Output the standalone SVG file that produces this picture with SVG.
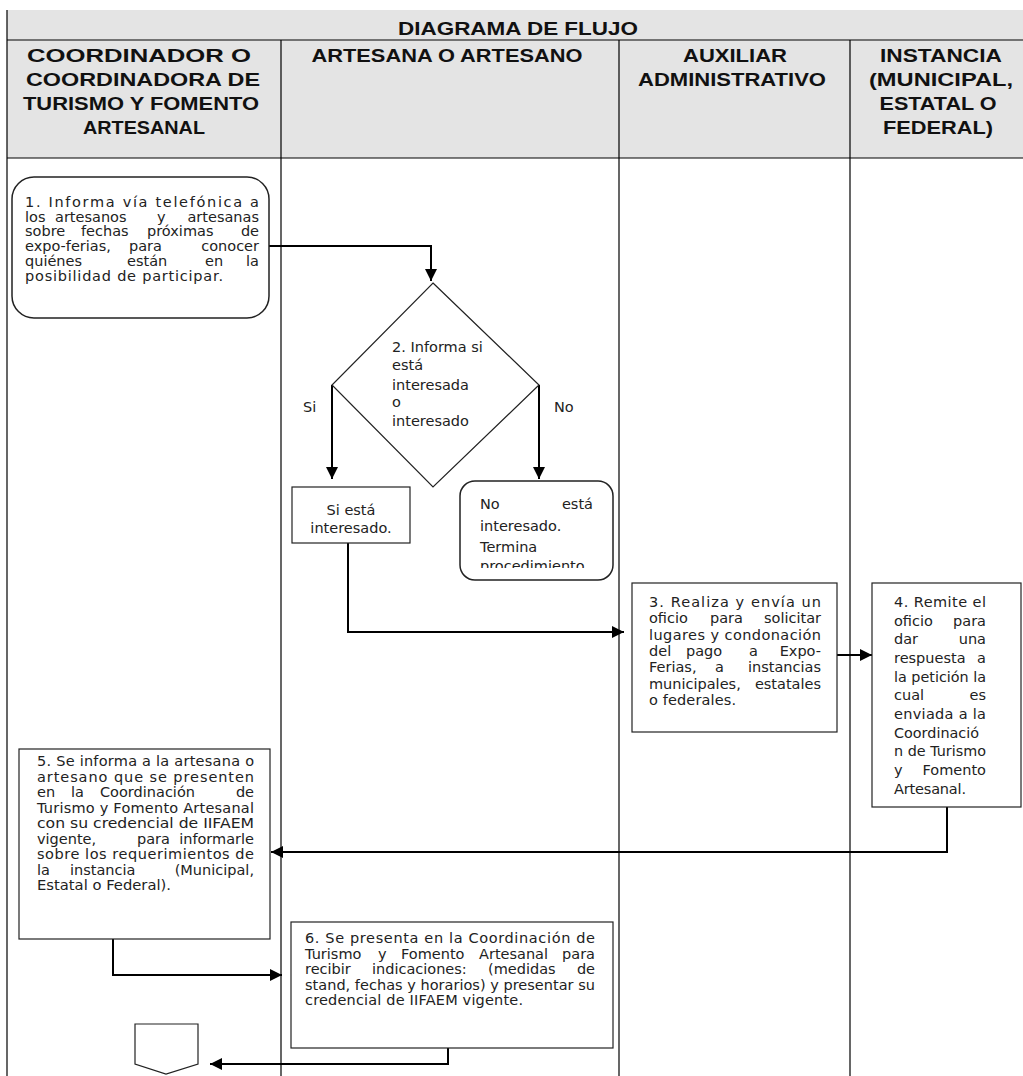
<svg xmlns="http://www.w3.org/2000/svg" width="1023" height="1076" viewBox="0 0 1023 1076">
<style>
.lane{stroke:#000;stroke-width:1.2;fill:none}
.hdr{fill:#e4e4e4}
.h{font-family:"Liberation Sans",Arial,sans-serif;font-weight:bold;font-size:19px;fill:#111;text-anchor:middle}
.t{font-family:"DejaVu Sans","Liberation Sans",sans-serif;font-size:14.5px;fill:#222}
.e{text-anchor:end}
.m{text-anchor:middle}
.box{fill:#fff;stroke:#222;stroke-width:1.2}
.rbox{fill:#fff;stroke:#222;stroke-width:1.5}
.conn{fill:none;stroke:#000;stroke-width:2}
</style>
<defs>
<marker id="ah" markerWidth="12" markerHeight="12" refX="12" refY="6" orient="auto" markerUnits="userSpaceOnUse">
<path d="M0,0 L12,6 L0,12 z" fill="#000"/>
</marker>
<clipPath id="noclip"><rect x="460" y="481" width="153" height="87"/></clipPath>
</defs>
<rect width="1023" height="1076" fill="#fff"/>
<g id="table">
<rect class="hdr" x="7" y="10" width="1016" height="148"/>
<line class="lane" x1="7" y1="10" x2="7" y2="1076"/>
<line class="lane" x1="7" y1="40" x2="1023" y2="40"/>
<line class="lane" x1="7" y1="158" x2="1023" y2="158"/>
<line class="lane" x1="281" y1="40" x2="281" y2="1076"/>
<line class="lane" x1="619" y1="40" x2="619" y2="1076"/>
<line class="lane" x1="850" y1="40" x2="850" y2="1076"/>
<text class="h" x="518" y="35" textLength="240" lengthAdjust="spacingAndGlyphs">DIAGRAMA DE FLUJO</text>
<text class="h" x="139" y="62" textLength="224" lengthAdjust="spacingAndGlyphs">COORDINADOR O</text>
<text class="h" x="143" y="86" textLength="234" lengthAdjust="spacingAndGlyphs">COORDINADORA DE</text>
<text class="h" x="141" y="110" textLength="236" lengthAdjust="spacingAndGlyphs">TURISMO Y FOMENTO</text>
<text class="h" x="144" y="134" textLength="122" lengthAdjust="spacingAndGlyphs">ARTESANAL</text>
<text class="h" x="447" y="62" textLength="271" lengthAdjust="spacingAndGlyphs">ARTESANA O ARTESANO</text>
<text class="h" x="735" y="62" textLength="104" lengthAdjust="spacingAndGlyphs">AUXILIAR</text>
<text class="h" x="732" y="86" textLength="188" lengthAdjust="spacingAndGlyphs">ADMINISTRATIVO</text>
<text class="h" x="941" y="62" textLength="122" lengthAdjust="spacingAndGlyphs">INSTANCIA</text>
<text class="h" x="941" y="86" textLength="144" lengthAdjust="spacingAndGlyphs">(MUNICIPAL,</text>
<text class="h" x="938" y="110" textLength="117" lengthAdjust="spacingAndGlyphs">ESTATAL O</text>
<text class="h" x="938" y="134" textLength="110" lengthAdjust="spacingAndGlyphs">FEDERAL)</text>
</g>
<g id="connectors">
<path class="conn" d="M269,246 H431 V281" marker-end="url(#ah)"/>
<path class="conn" d="M332,385 V479" marker-end="url(#ah)"/>
<path class="conn" d="M539,385 V479" marker-end="url(#ah)"/>
<path class="conn" d="M348,543 V632 H624" marker-end="url(#ah)"/>
<path class="conn" d="M837,655 H872" marker-end="url(#ah)"/>
<path class="conn" d="M947,807 V852 H271" marker-end="url(#ah)"/>
<path class="conn" d="M113,939 V975 H282" marker-end="url(#ah)"/>
<path class="conn" d="M448,1048 V1064 H210" marker-end="url(#ah)"/>
<text class="t" x="303" y="412">Si</text>
<text class="t" x="554" y="412">No</text>
</g>
<g id="node1">
<rect class="rbox" x="12" y="177" width="257" height="141" rx="22"/>
<text class="t" x="25" y="207" textLength="234" lengthAdjust="spacing">1. Informa vía telefónica a</text>
<text class="t" y="221.7"><tspan x="25">los</tspan><tspan x="55">artesanos</tspan><tspan x="157">y</tspan></text>
<text class="t e" x="259" y="221.7">artesanas</text>
<text class="t" y="236.4"><tspan x="25">sobre</tspan><tspan x="81">fechas</tspan><tspan x="147">próximas</tspan></text>
<text class="t e" x="259" y="236.4">de</text>
<text class="t" y="251.1"><tspan x="25">expo-ferias,</tspan><tspan x="129">para</tspan></text>
<text class="t e" x="259" y="251.1">conocer</text>
<text class="t" y="265.8"><tspan x="25">quiénes</tspan><tspan x="127">están</tspan><tspan x="205">en</tspan></text>
<text class="t e" x="259" y="265.8">la</text>
<text class="t" x="25" y="280.5" textLength="198" lengthAdjust="spacing">posibilidad de  participar.</text>
</g>
<g id="node2">
<polygon class="box" points="433,283 539,385 433,487 332,385"/>
<text class="t" x="392" y="352">2. Informa si</text>
<text class="t" x="392" y="370">está</text>
<text class="t" x="392" y="390">interesada</text>
<text class="t" x="392" y="407">o</text>
<text class="t" x="392" y="426">interesado</text>
</g>
<g id="node-si">
<rect class="box" x="292" y="487" width="118" height="56"/>
<text class="t m" x="351" y="515">Si está</text>
<text class="t m" x="351" y="533">interesado.</text>
</g>
<g id="node-no">
<rect class="rbox" x="460" y="481" width="153" height="99" rx="15"/>
<g clip-path="url(#noclip)">
<text class="t" x="480" y="509">No</text>
<text class="t e" x="593" y="509">está</text>
<text class="t" x="480" y="531">interesado.</text>
<text class="t" x="480" y="552">Termina</text>
<text class="t" x="480" y="571">procedimiento</text>
</g>
</g>
<g id="node3">
<rect class="box" x="632" y="583" width="205" height="149"/>
<text class="t" x="649" y="607" textLength="172" lengthAdjust="spacing">3. Realiza y envía un</text>
<text class="t" y="623.3"><tspan x="649">oficio</tspan><tspan x="710">para</tspan></text>
<text class="t e" x="821" y="623.3">solicitar</text>
<text class="t" x="649" y="639.6" textLength="172" lengthAdjust="spacing">lugares y condonación</text>
<text class="t" y="655.9"><tspan x="649">del</tspan><tspan x="686">pago</tspan><tspan x="749">a</tspan></text>
<text class="t e" x="821" y="655.9">Expo-</text>
<text class="t" y="672.2"><tspan x="649">Ferias,</tspan><tspan x="715">a</tspan></text>
<text class="t e" x="821" y="672.2">instancias</text>
<text class="t" x="649" y="688.5">municipales,</text>
<text class="t e" x="821" y="688.5">estatales</text>
<text class="t" x="649" y="704.8" textLength="87" lengthAdjust="spacing">o federales.</text>
</g>
<g id="node4">
<rect class="box" x="872" y="583" width="149" height="224"/>
<text class="t" x="894" y="607" textLength="92" lengthAdjust="spacing">4. Remite el</text>
<text class="t" x="894" y="625.7">oficio</text><text class="t e" x="986" y="625.7">para</text>
<text class="t" x="894" y="644.3">dar</text><text class="t e" x="986" y="644.3">una</text>
<text class="t" x="894" y="663">respuesta</text><text class="t e" x="986" y="663">a</text>
<text class="t" x="894" y="681.6" textLength="92" lengthAdjust="spacingAndGlyphs">la petición la</text>
<text class="t" x="894" y="700.3">cual</text><text class="t e" x="986" y="700.3">es</text>
<text class="t" x="894" y="719" textLength="92" lengthAdjust="spacing">enviada a la</text>
<text class="t" x="894" y="737.6" textLength="85" lengthAdjust="spacingAndGlyphs">Coordinació</text>
<text class="t" x="894" y="756.3" textLength="92" lengthAdjust="spacingAndGlyphs">n de Turismo</text>
<text class="t" x="894" y="775">y</text><text class="t e" x="986" y="775">Fomento</text>
<text class="t" x="894" y="793.6" textLength="72" lengthAdjust="spacing">Artesanal.</text>
</g>
<g id="node5">
<rect class="box" x="19" y="749" width="251" height="190"/>
<text class="t" x="37" y="766" textLength="217" lengthAdjust="spacing">5. Se informa a la artesana o</text>
<text class="t" x="37" y="781.5" textLength="217" lengthAdjust="spacing">artesano que se presenten</text>
<text class="t" y="797"><tspan x="37">en</tspan><tspan x="71">la</tspan><tspan x="100">Coordinación</tspan></text>
<text class="t e" x="254" y="797">de</text>
<text class="t" x="37" y="812.5" textLength="217" lengthAdjust="spacing">Turismo y Fomento Artesanal</text>
<text class="t" x="37" y="828" textLength="217" lengthAdjust="spacingAndGlyphs">con su credencial de IIFAEM</text>
<text class="t" y="843.5"><tspan x="37">vigente,</tspan><tspan x="137">para</tspan></text>
<text class="t e" x="254" y="843.5">informarle</text>
<text class="t" x="37" y="859" textLength="217" lengthAdjust="spacing">sobre los requerimientos de</text>
<text class="t" y="874.5"><tspan x="37">la</tspan><tspan x="70">instancia</tspan></text>
<text class="t e" x="254" y="874.5">(Municipal,</text>
<text class="t" x="37" y="890" textLength="134" lengthAdjust="spacingAndGlyphs">Estatal o Federal).</text>
</g>
<g id="node6">
<rect class="box" x="291" y="922" width="322" height="126"/>
<text class="t" x="305" y="943" textLength="290" lengthAdjust="spacing">6. Se presenta en la Coordinación de</text>
<text class="t" y="958.6"><tspan x="305">Turismo</tspan><tspan x="378">y</tspan><tspan x="401">Fomento</tspan><tspan x="479">Artesanal</tspan></text>
<text class="t e" x="595" y="958.6">para</text>
<text class="t" y="974.2"><tspan x="305">recibir</tspan><tspan x="372">indicaciones:</tspan><tspan x="488">(medidas</tspan></text>
<text class="t e" x="595" y="974.2">de</text>
<text class="t" x="305" y="989.8" textLength="290" lengthAdjust="spacing">stand, fechas y horarios) y presentar su</text>
<text class="t" x="305" y="1005.4" textLength="218" lengthAdjust="spacing">credencial de IIFAEM vigente.</text>
</g>
<g id="offpage">
<path class="box" d="M135,1024 H198 V1064 L166,1074 L135,1064 Z"/>
</g>
</svg>
